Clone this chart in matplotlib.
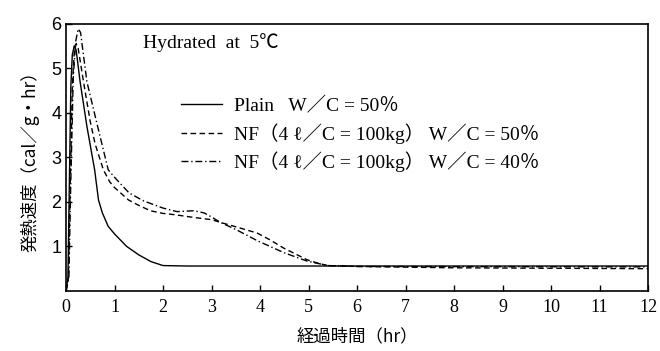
import matplotlib.pyplot as plt

plt.rcParams['font.family'] = ['Liberation Serif', 'Noto Sans CJK JP', 'DejaVu Sans']

# Plain W/C=50%
plain_t = [0, 0.04, 0.07, 0.10, 0.13, 0.17, 0.21, 0.29, 0.43, 0.59, 0.67, 0.75, 0.87,
           1.0, 1.25, 1.5, 1.75, 2.0, 2.5, 12]
plain_q = [0, 0.3, 2.5, 4.6, 5.3, 5.5, 5.4, 4.7, 3.7, 2.72, 2.04, 1.75, 1.45,
           1.28, 1.0, 0.81, 0.66, 0.57, 0.56, 0.56]

# NF W/C=50%
nf50_t = [0, 0.05, 0.09, 0.13, 0.17, 0.21, 0.25, 0.36, 0.5, 0.6, 0.77, 0.9, 1.0, 1.29,
          1.5, 1.74, 2.0, 2.25, 2.63, 3.0, 3.18, 3.5, 3.94, 4.2, 4.49, 4.75, 4.97,
          5.2, 5.4, 6, 8, 12]
nf50_q = [0, 0.3, 2.5, 4.6, 5.35, 5.55, 5.45, 4.7, 3.8, 3.3, 2.72, 2.45, 2.32, 2.04,
          1.92, 1.80, 1.74, 1.71, 1.65, 1.60, 1.54, 1.44, 1.30, 1.15, 0.96, 0.82, 0.70,
          0.62, 0.57, 0.55, 0.52, 0.50]

# NF W/C=40%
nf40_t = [0, 0.06, 0.10, 0.15, 0.20, 0.25, 0.30, 0.43, 0.65, 0.87, 1.0, 1.3, 1.6,
          2.0, 2.29, 2.63, 2.85, 3.0, 3.18, 3.5, 3.94, 4.49, 4.97, 5.4, 6, 12]
nf40_q = [0, 0.3, 2.5, 4.8, 5.6, 5.88, 5.8, 4.7, 3.7, 2.72, 2.55, 2.2, 2.02,
          1.86, 1.78, 1.80, 1.75, 1.66, 1.54, 1.38, 1.13, 0.86, 0.67, 0.57, 0.55, 0.54]

labels = ['Plain   W／C = 50％',
          'NF（4 ℓ／C = 100kg） W／C = 50％',
          'NF（4 ℓ／C = 100kg） W／C = 40％']

fig = plt.figure(figsize=(6.6, 3.51), dpi=100)
ax = fig.add_axes([0.1, 0.171, 0.882, 0.762])

ax.plot(plain_t, plain_q, color='black', lw=1.0, ls='-', label=labels[0])
ax.plot(nf50_t, nf50_q, color='black', lw=1.0, ls=(0, (4, 2.5)), label=labels[1])
ax.plot(nf40_t, nf40_q, color='black', lw=1.0, ls=(0, (5, 2, 1, 2)), label=labels[2])

ax.set_xlim(0, 12)
ax.set_ylim(0, 6)
ax.set_xticks(range(0, 13))
ax.set_yticks(range(1, 7))
ax.tick_params(direction='in', length=4, width=1, labelsize=13)
ax.tick_params(axis='x', pad=6)
for lab in ax.get_xticklabels():
    lab.set_family(['Liberation Serif', 'DejaVu Serif'])
for lab in ax.get_yticklabels():
    lab.set_family(['Liberation Sans', 'DejaVu Sans'])
for s in ax.spines.values():
    s.set_linewidth(1.2)

ax.text(0.132, 0.93, 'Hydrated  at  5℃', transform=ax.transAxes, fontsize=14,
        ha='left', va='center', family=['Liberation Serif', 'Noto Sans CJK JP'])

ax.legend(loc='upper left', bbox_to_anchor=(0.168, 0.79), frameon=False,
          handlelength=2.1, handletextpad=0.6, labelspacing=0.4,
          prop={'size': 14, 'family': ['Liberation Serif', 'Noto Sans CJK JP']})

ax.set_ylabel('発熱速度（cal／g・hr）', fontsize=12.5,
              family=['Noto Sans CJK JP', 'DejaVu Sans'], labelpad=8)
ax.set_xlabel('経過時間（hr）', fontsize=12.5,
              family=['Noto Sans CJK JP', 'DejaVu Sans'], labelpad=8)

fig.savefig('out.png', dpi=100)
